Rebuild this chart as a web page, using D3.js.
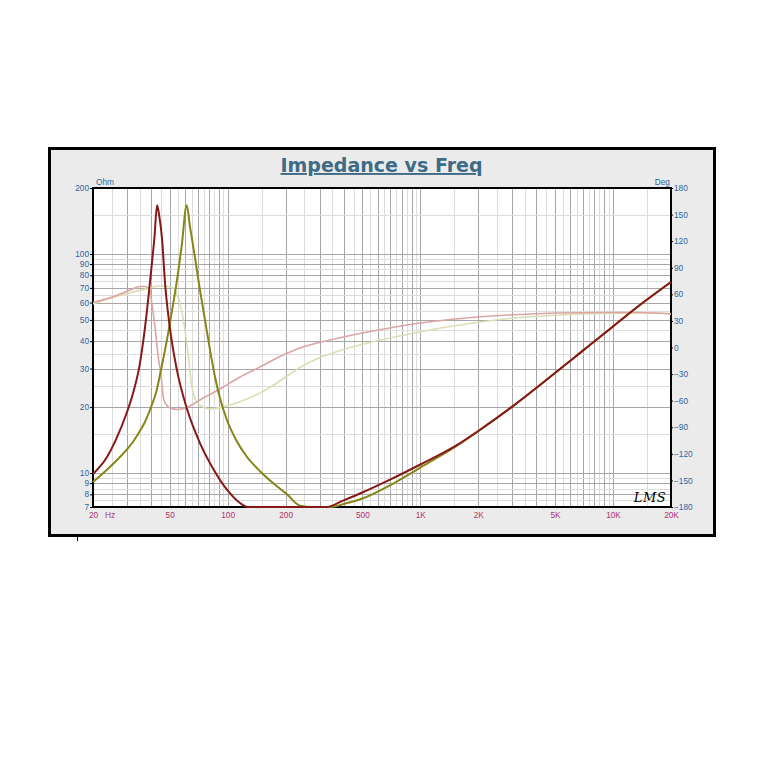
<!DOCTYPE html>
<html><head><meta charset="utf-8">
<script src="https://cdn.jsdelivr.net/npm/d3@7"></script>
<style>
html,body{margin:0;padding:0;background:#fff;}
svg{display:block;}
</style></head>
<body>
<svg id="chart" width="776" height="768"></svg>
<script>
// ---- data ----
const xTicks = [20, 50, 100, 200, 500, 1000, 2000, 5000, 10000, 20000];
const xTickLabels = ["20", "50", "100", "200", "500", "1K", "2K", "5K", "10K", "20K"];
const leftTicks = [200, 100, 90, 80, 70, 60, 50, 40, 30, 20, 10, 9, 8, 7];
const rightTicks = [180, 150, 120, 90, 60, 30, 0, -30, -60, -90, -120, -150, -180];

// impedance trace 1 (dark red), Ohm  (values under 7 sit on the bottom edge)
const freqA = [20, 23.6, 26.3, 29.9, 32.3, 34.7, 37.2, 40.2, 41.7, 43, 44, 45.6, 47.3, 50.2, 54.4, 61.3, 71.8, 83.9, 99.2, 115.9, 127.5, 160, 200, 260, 300, 327, 400, 500, 700, 1000, 1500, 2000, 3000, 5000, 7000, 10000, 14000, 20000];
const zA    = [9.9, 11.8, 14.2, 18.8, 23.2, 30.2, 45.9, 86.3, 119.5, 167, 152, 118, 73.7, 45.5, 29.8, 19.8, 13.7, 10.5, 8.4, 7.3, 7.0, 6.2, 5.6, 5.6, 6.3, 7.0, 7.51, 8.15, 9.35, 10.94, 13.2, 15.56, 20.1, 28.6, 36.3, 46.7, 59.1, 74.5];
// impedance trace 2 (olive), Ohm
const freqB = [20, 25.4, 29.7, 32.3, 35.1, 37.2, 39.5, 42.8, 45.5, 48.3, 51.2, 54.4, 57.7, 61.3, 63.7, 67.7, 71.8, 76.3, 81, 85.9, 91.2, 98.8, 110.5, 125.5, 147.2, 172, 203.2, 237, 274, 310, 345, 400, 500, 700, 1000, 1500, 2000, 3000, 5000, 7000, 10000, 14000, 20000];
const zB    = [9.1, 11.0, 12.7, 13.9, 15.6, 17.1, 19.4, 23.9, 30.8, 40.1, 53.8, 74.5, 108.7, 167, 134, 95.9, 68.5, 49.9, 36.4, 27.5, 22.0, 17.6, 14.2, 11.9, 10.2, 9.0, 8.0, 7.1, 7.0, 6.7, 7.0, 7.22, 7.65, 8.82, 10.6, 13.08, 15.56, 20.1, 28.6, 36.3, 46.7, 59.1, 74.5];
// phase trace 1 (pink), Deg
const freqC = [20, 26, 31.1, 35.1, 37.2, 38.6, 39.5, 40.7, 42, 43.5, 45.5, 46.3, 47.9, 50.2, 55.2, 61.3, 71.8, 91.2, 115.9, 147.2, 186.9, 237, 340, 486, 696, 1000, 1426, 1992, 3291, 5000, 8560, 13810, 20000];
const phC   = [50.8, 58.1, 64.9, 68.8, 68.8, 67.1, 63.8, 44.6, 22.0, -8.5, -38.9, -55.9, -64.3, -68.3, -70.0, -67.7, -59.2, -46.8, -33.3, -22.0, -10.2, -0.6, 8.5, 15.8, 22.0, 27.6, 31.6, 34.4, 37.2, 38.9, 39.5, 39.5, 37.8];
// phase trace 2 (khaki), Deg
const freqD = [20, 29.3, 39.5, 44.5, 49, 52, 53.9, 55.9, 57.9, 60, 62.2, 64.5, 66.5, 69.3, 74.5, 81, 91.2, 115.9, 147.2, 172, 203.2, 237, 301.4, 383, 548, 784, 1122, 1606, 2592, 4710, 8560, 13810, 20000];
const phD   = [49.1, 60.4, 67.1, 69.7, 68.8, 67.1, 62.6, 53.6, 40.1, 19.8, -5.1, -36.7, -52.5, -61.5, -67.1, -69.4, -67.7, -61.2, -51.3, -42.9, -32.2, -22.6, -11.3, -3.4, 5.6, 13.0, 19.8, 25.4, 31.6, 36.1, 38.4, 38.9, 38.4];

// ---- layout ----
const svg = d3.select("#chart");
const L = 93, R = 671, T = 188, B = 507;

const x = d3.scaleLog().domain([20, 20000]).range([L, R]);
const yL = d3.scaleLog().domain([7, 200]).range([B, T]).clamp(true);
const yR = d3.scaleLinear().domain([-180, 180]).range([B, T]);

// outer frame
svg.append("rect").attr("x", 49.5).attr("y", 148.5).attr("width", 665).attr("height", 387)
  .attr("fill", "#ebebeb").attr("stroke", "#000").attr("stroke-width", 3);
svg.append("line").attr("x1", 77.5).attr("x2", 77.5).attr("y1", 537).attr("y2", 541)
  .attr("stroke", "#000").attr("stroke-width", 1);

// plot background
svg.append("rect").attr("x", L).attr("y", T).attr("width", R - L).attr("height", B - T).attr("fill", "#fff");

// grids
const gx = svg.append("g");
const majX = [], minX = [];
for (let d = 10; d <= 10000; d *= 10) {
  for (let k = 1; k <= 9; k++) {
    const v = k * d;
    if (v > 20 && v < 20000) majX.push(v);
    const h = (k + 0.5) * d;
    if (h > 20 && h < 20000) minX.push(h);
  }
}
gx.selectAll("line.minx").data(minX).join("line")
  .attr("x1", d => Math.round(x(d)) + 0.5).attr("x2", d => Math.round(x(d)) + 0.5)
  .attr("y1", T).attr("y2", B).attr("stroke", "#dcdcdc").attr("stroke-width", 1);
gx.selectAll("line.majx").data(majX).join("line")
  .attr("x1", d => Math.round(x(d)) + 0.5).attr("x2", d => Math.round(x(d)) + 0.5)
  .attr("y1", T).attr("y2", B).attr("stroke", "#a6a6a6").attr("stroke-width", 1);

const majY = [], minY = [];
for (let d = 1; d <= 100; d *= 10) {
  for (let k = 1; k <= 9; k++) {
    const v = k * d;
    if (v > 7 && v < 200) majY.push(v);
    const h = (k + 0.5) * d;
    if (h > 7 && h < 200) minY.push(h);
  }
}
gx.selectAll("line.miny").data(minY).join("line")
  .attr("y1", d => Math.round(yL(d)) + 0.5).attr("y2", d => Math.round(yL(d)) + 0.5)
  .attr("x1", L).attr("x2", R).attr("stroke", "#dcdcdc").attr("stroke-width", 1);
gx.selectAll("line.majy").data(majY).join("line")
  .attr("y1", d => Math.round(yL(d)) + 0.5).attr("y2", d => Math.round(yL(d)) + 0.5)
  .attr("x1", L).attr("x2", R).attr("stroke", "#a6a6a6").attr("stroke-width", 1);

// plot border
svg.append("rect").attr("x", L).attr("y", T).attr("width", R - L).attr("height", B - T)
  .attr("fill", "none").attr("stroke", "#000").attr("stroke-width", 2);

// curves
const curve = d3.curveMonotoneX;
function drawLine(fr, vals, yScale, color, w) {
  const data = fr.map((f, i) => [f, vals[i]]);
  svg.append("path").datum(data)
    .attr("d", d3.line().x(d => x(d[0])).y(d => yScale(d[1])).curve(curve))
    .attr("fill", "none").attr("stroke", color).attr("stroke-width", w)
    .attr("stroke-linejoin", "round");
}
drawLine(freqD, phD, yR, "#dcdeb2", 1.6);
drawLine(freqC, phC, yR, "#dba5a5", 1.6);
drawLine(freqB, zB, yL, "#868616", 2);
drawLine(freqA, zA, yL, "#861818", 2);

// axes
const fontFam = "'Liberation Sans', Arial, sans-serif";
const fs = 8.3;
const axL = svg.append("g").attr("transform", `translate(${L},0)`)
  .call(d3.axisLeft(yL).tickValues(leftTicks).tickFormat(d3.format("d")).tickSize(3).tickPadding(1));
const axR = svg.append("g").attr("transform", `translate(${R},0)`)
  .call(d3.axisRight(yR).tickValues(rightTicks).tickFormat(d3.format("d")).tickSize(2).tickPadding(1));
const axB = svg.append("g").attr("transform", `translate(0,${B})`)
  .call(d3.axisBottom(x).tickValues(xTicks).tickFormat((d, i) => xTickLabels[i]).tickSize(0).tickPadding(5));
[axL, axR, axB].forEach(a => {
  a.select(".domain").remove();
  a.selectAll(".tick line").attr("stroke", "#000");
  a.selectAll("text").attr("font-family", fontFam).attr("font-size", fs);
});
axL.selectAll("text").attr("fill", "#2f64a0");
axR.selectAll("text").attr("fill", "#2f64a0");
axB.selectAll("text").attr("fill", "#b2336e");

svg.append("text").attr("x", 105).attr("y", 518).text("Hz")
  .attr("font-family", fontFam).attr("font-size", fs).attr("fill", "#b2336e");
svg.append("text").attr("x", 96).attr("y", 185).text("Ohm")
  .attr("font-family", fontFam).attr("font-size", fs).attr("fill", "#2f64a0");
svg.append("text").attr("x", 670).attr("y", 185).attr("text-anchor", "end").text("Deg")
  .attr("font-family", fontFam).attr("font-size", fs).attr("fill", "#2f64a0");

// title
svg.append("text").attr("x", 381.5).attr("y", 172).attr("text-anchor", "middle")
  .text("Impedance vs Freq")
  .attr("font-family", "'DejaVu Sans', Verdana, sans-serif").attr("font-weight", "bold").attr("font-size", 19)
  .attr("fill", "#3e6b86").style("text-decoration", "underline");

// LMS mark
svg.append("text").attr("x", 650).attr("y", 502).attr("text-anchor", "middle").text("LMS")
  .attr("font-family", "'DejaVu Serif', serif").attr("font-style", "italic")
  .attr("font-size", 13).attr("fill", "#000").attr("letter-spacing", 0.5);
</script>
</body></html>
